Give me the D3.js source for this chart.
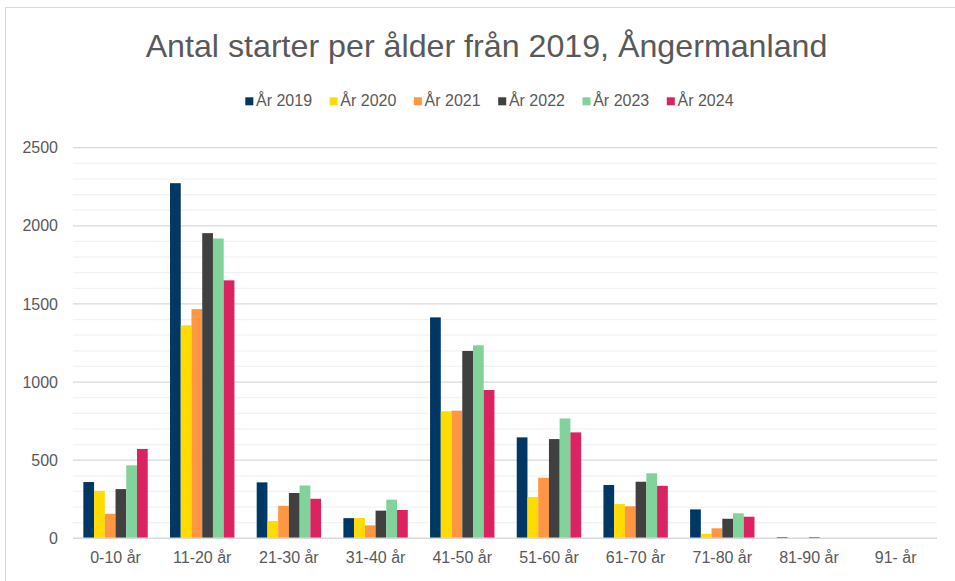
<!DOCTYPE html>
<html><head><meta charset="utf-8">
<script src="https://cdn.jsdelivr.net/npm/d3@7"></script>
<style>body{margin:0;background:#fff;}svg{display:block;font-family:"Liberation Sans",Arial,sans-serif;}</style>
</head><body>
<script>
const categories = ["0-10 år","11-20 år","21-30 år","31-40 år","41-50 år","51-60 år","61-70 år","71-80 år","81-90 år","91- år"];
const seriesNames = ["År 2019","År 2020","År 2021","År 2022","År 2023","År 2024"];
const colors = ["#003865","#FFDC00","#FF9641","#404040","#82D29B","#DC2362"];
const v2019 = [360,2273,358,129,1414,646,341,185,8,0];
const v2020 = [304,1363,110,130,813,264,219,29,2,0];
const v2021 = [157,1467,208,83,817,387,205,64,3,0];
const v2022 = [315,1953,290,177,1199,635,362,125,8,0];
const v2023 = [467,1919,338,247,1235,767,416,160,2,0];
const v2024 = [572,1651,253,181,949,678,336,138,1,0];
const values = [v2019,v2020,v2021,v2022,v2023,v2024];
const yTicks = [0,500,1000,1500,2000,2500];
const title = "Antal starter per ålder från 2019, Ångermanland";

const W=955,H=581;
const svg=d3.select("body").append("svg").attr("width",W).attr("height",H);
svg.append("rect").attr("x",5.5).attr("y",7.5).attr("width",W).attr("height",H).attr("fill","#fff").attr("stroke","#d9d9d9").attr("stroke-width",1);

const x0=d3.scaleBand().domain(categories).range([72.2,939]).paddingInner(0.257).paddingOuter(0.1285);
const x1=d3.scaleBand().domain(seriesNames).range([0,x0.bandwidth()]);
const y=d3.scaleLinear().domain([0,2500]).range([538.3,147.7]);

// minor gridlines
const minor=d3.range(100,2500,100).filter(v=>v%500!==0);
svg.append("g").selectAll("line").data(minor).join("line")
  .attr("x1",73).attr("x2",937).attr("y1",d=>y(d)).attr("y2",d=>y(d))
  .attr("stroke","#f2f2f2").attr("stroke-width",1.3);
svg.append("g").selectAll("line").data(yTicks.slice(1)).join("line")
  .attr("x1",73).attr("x2",937).attr("y1",d=>y(d)).attr("y2",d=>y(d))
  .attr("stroke","#d9d9d9").attr("stroke-width",1.3);

// y axis labels
const yAxis=d3.axisLeft(y).tickValues(yTicks).tickFormat(d3.format("d")).tickSize(0).tickPadding(0);
const ga=svg.append("g").attr("transform","translate(58,0)").call(yAxis);
ga.select(".domain").remove();
ga.selectAll("text").attr("font-size",16).attr("fill","#595959").attr("font-family","Liberation Sans, Arial, sans-serif");

// bars
const g=svg.append("g");
seriesNames.forEach((s,i)=>{
  g.append("g").selectAll("rect").data(categories).join("rect")
    .attr("x",c=>x0(c)+x1(s)).attr("width",x1.bandwidth())
    .attr("y",(c,j)=>y(values[i][j])).attr("height",(c,j)=>y(0)-y(values[i][j]))
    .attr("fill",colors[i]);
});

// baseline
svg.append("line").attr("x1",73).attr("x2",937).attr("y1",y(0)).attr("y2",y(0)).attr("stroke","#d9d9d9").attr("stroke-width",1.5);

// x axis labels
const xAxis=d3.axisBottom(x0).tickSize(0).tickPadding(0);
const gx=svg.append("g").attr("transform","translate(0,552)").call(xAxis);
gx.select(".domain").remove();
gx.selectAll("text").attr("font-size",16).attr("fill","#595959").attr("font-family","Liberation Sans, Arial, sans-serif");

// title
svg.append("text").attr("x",486.5).attr("y",57).attr("text-anchor","middle").attr("font-size",32.2).attr("fill","#595959").text(title);

// legend
const lg=svg.append("g").selectAll("g").data(seriesNames).join("g")
  .attr("transform",(d,i)=>`translate(${245.3+i*84.3},97.3)`);
lg.append("rect").attr("width",8).attr("height",8).attr("fill",(d,i)=>colors[i]);
lg.append("text").attr("x",10.7).attr("y",8.7).attr("font-size",16).attr("fill","#595959").text(d=>d);
</script>
</body></html>
